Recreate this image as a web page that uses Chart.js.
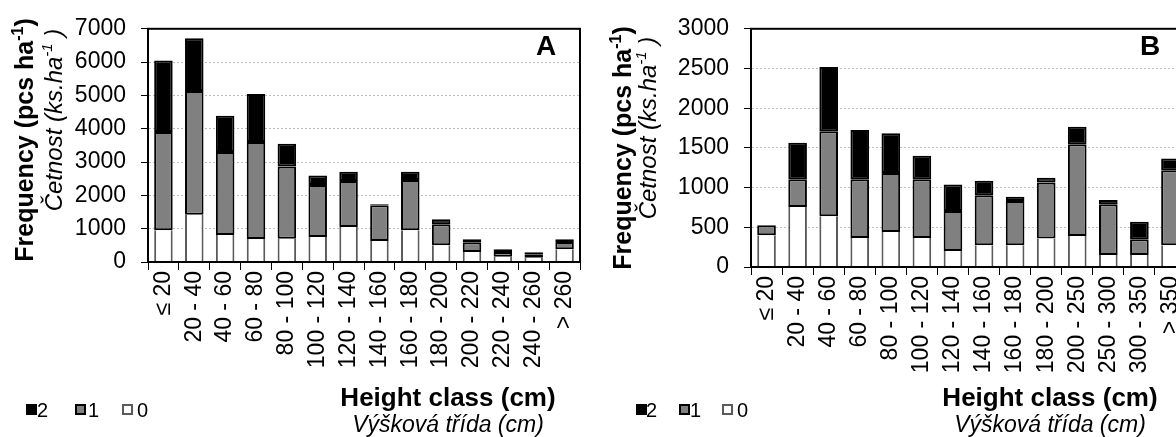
<!DOCTYPE html>
<html>
<head>
<meta charset="utf-8">
<script src="https://cdn.jsdelivr.net/npm/chart.js@4"></script>
<style>
  body { margin: 0; width: 1176px; height: 437px; overflow: hidden; background: #fff; position: relative; }
  canvas { position: absolute; top: 0; }
  #graficoA { left: 0; }
  #graficoB { left: 600px; }
</style>
</head>
<body>
<canvas id="graficoA" width="600" height="437"></canvas>
<canvas id="graficoB" width="600" height="437"></canvas>
<script>
// Classes de altura (painel A)
var classesA = ['≤ 20', '20 - 40', '40 - 60', '60 - 80', '80 - 100', '100 - 120', '120 - 140',
  '140 - 160', '160 - 180', '180 - 200', '200 - 220', '220 - 240', '240 - 260', '> 260'];
var zeroA = [950, 1420, 810, 690, 700, 750, 1050, 630, 950, 500, 300, 160, 130, 380];
var umA   = [2950, 3710, 2490, 2910, 2170, 1560, 1380, 1070, 1510, 630, 290, 140, 90, 220];
var doisA = [2150, 1590, 1090, 1440, 680, 290, 280, 30, 250, 150, 90, 80, 70, 80];
var ticksA = [0, 1000, 2000, 3000, 4000, 5000, 6000, 7000];

// Classes de altura (painel B)
var classesB = ['≤ 20', '20 - 40', '40 - 60', '60 - 80', '80 - 100', '100 - 120', '120 - 140',
  '140 - 160', '160 - 180', '180 - 200', '200 - 250', '250 - 300', '300 - 350', '> 350'];
var zeroB = [400, 755, 640, 365, 440, 365, 200, 275, 275, 360, 390, 150, 150, 275];
var umB   = [125, 350, 1070, 740, 745, 740, 505, 630, 555, 705, 1155, 640, 200, 945];
var doisB = [0, 460, 810, 620, 500, 295, 335, 180, 55, 60, 220, 55, 220, 145];
var ticksB = [0, 500, 1000, 1500, 2000, 2500, 3000];

var fonte = '"Liberation Sans", Arial, sans-serif';

// Título vertical com expoente (ha-1)
function tituloVertical(ctx, x, y, estilo, tam, base, sup, fim) {
  ctx.save();
  ctx.translate(x, y);
  ctx.rotate(-Math.PI / 2);
  var fBase = estilo + ' ' + tam + 'px ' + fonte;
  var fSup = estilo + ' ' + Math.round(tam * 0.62) + 'px ' + fonte;
  ctx.font = fBase;
  var w1 = ctx.measureText(base).width;
  var w3 = ctx.measureText(fim).width;
  ctx.font = fSup;
  var w2 = ctx.measureText(sup).width;
  var x0 = -(w1 + w2 + w3) / 2;
  var b = tam * 0.36;
  ctx.fillStyle = '#000';
  ctx.textAlign = 'left';
  ctx.textBaseline = 'alphabetic';
  ctx.font = fBase;
  ctx.fillText(base, x0, b);
  ctx.font = fSup;
  ctx.fillText(sup, x0 + w1, b - tam * 0.42);
  ctx.font = fBase;
  ctx.fillText(fim, x0 + w1 + w2, b);
  ctx.restore();
}

// Moldura, letra do painel, títulos e legenda
function textos(cfg) {
  return {
    id: 'textos',
    afterDraw: function (chart) {
      var ctx = chart.ctx;
      var a = chart.chartArea;
      ctx.save();
      ctx.strokeStyle = '#000';
      ctx.lineWidth = 2;
      ctx.strokeRect(a.left, a.top, a.right - a.left, a.bottom - a.top);

      ctx.fillStyle = '#000';
      ctx.textAlign = 'center';
      ctx.textBaseline = 'middle';
      ctx.font = 'bold 28px ' + fonte;
      ctx.fillText(cfg.letra, cfg.letraX, 47);

      tituloVertical(ctx, cfg.freqX, cfg.freqY, 'bold', cfg.freqTam, 'Frequency (pcs ha', '-1', ')');
      tituloVertical(ctx, cfg.cetX, cfg.cetY, 'italic', cfg.cetTam, 'Četnost (ks.ha', '-1', ' )');

      ctx.textBaseline = 'alphabetic';
      ctx.font = 'bold 26px ' + fonte;
      ctx.fillText('Height class (cm)', cfg.tituloX, 406);
      ctx.font = 'italic 23px ' + fonte;
      ctx.fillText('Výšková třída (cm)', cfg.tituloX, 432);

      // legenda: 2, 1, 0
      var ds = chart.data.datasets;
      var ordem = [2, 1, 0];
      ctx.textAlign = 'left';
      ctx.font = '20px ' + fonte;
      for (var i = 0; i < 3; i++) {
        var d = ds[ordem[i]];
        var bx = cfg.legCaixas[i];
        ctx.fillStyle = d.backgroundColor;
        ctx.fillRect(bx, 404, 11, 11);
        ctx.strokeStyle = d.borderColor;
        ctx.lineWidth = 2;
        ctx.strokeRect(bx + 1, 405, 9, 9);
        ctx.fillStyle = '#000';
        ctx.fillText(d.label, cfg.legTextos[i], 417);
      }
      ctx.restore();
    }
  };
}

function criarGrafico(id, classes, zero, um, dois, ticks, cfg) {
  var ctx = document.getElementById(id).getContext('2d');
  return new Chart(ctx, {
    type: 'bar',
    data: {
      labels: classes,
      datasets: [
        { label: '0', data: zero, backgroundColor: '#ffffff', borderColor: '#5a5a5a',
          borderWidth: { left: 2, right: 2, top: 0, bottom: 0 }, borderSkipped: false },
        { label: '1', data: um, backgroundColor: '#808080', borderColor: '#000000',
          borderWidth: 2, borderSkipped: false },
        { label: '2', data: dois, backgroundColor: '#000000', borderColor: '#000000',
          borderWidth: 2, borderSkipped: false }
      ]
    },
    options: {
      responsive: false,
      animation: false,
      layout: { padding: { top: cfg.topo, right: cfg.direita, left: 0, bottom: 0 } },
      datasets: { bar: { barPercentage: 0.6, categoryPercentage: 1 } },
      plugins: { legend: { display: false }, tooltip: { enabled: false } },
      scales: {
        x: {
          stacked: true,
          afterFit: function (s) { s.height = cfg.alturaX; },
          grid: { drawOnChartArea: false, drawTicks: true, tickLength: 8, color: '#000', lineWidth: 1 },
          border: { color: '#000', width: 2 },
          ticks: { autoSkip: false, minRotation: 90, maxRotation: 90, padding: 1,
            color: '#000', font: { family: fonte, size: 23 } }
        },
        y: {
          stacked: true,
          min: 0,
          max: ticks[ticks.length - 1],
          afterFit: function (s) { s.width = cfg.larguraY; },
          afterBuildTicks: function (s) { s.ticks = ticks.map(function (v) { return { value: v }; }); },
          grid: { color: '#bdbdbd', lineWidth: 1, tickColor: '#000', tickLength: 7 },
          border: { color: '#000', width: 2, dash: [2, 2] },
          ticks: { padding: 15, color: '#000', font: { family: fonte, size: 23 },
            callback: function (v) { return String(v); } }
        }
      }
    },
    plugins: [textos(cfg)]
  });
}

criarGrafico('graficoA', classesA, zeroA, umA, doisA, ticksA, {
  topo: 26, direita: 20, alturaX: 175, larguraY: 148,
  letra: 'A', letraX: 546,
  freqX: 24, freqY: 140, freqTam: 25,
  cetX: 53, cetY: 120, cetTam: 24,
  tituloX: 448,
  legCaixas: [26, 75, 122], legTextos: [37, 88, 137]
});

criarGrafico('graficoB', classesB, zeroB, umB, doisB, ticksB, {
  topo: 26, direita: 14, alturaX: 170, larguraY: 151,
  letra: 'B', letraX: 550,
  freqX: 22, freqY: 148, freqTam: 25,
  cetX: 47, cetY: 128, cetTam: 24,
  tituloX: 450,
  legCaixas: [36, 79, 122], legTextos: [46, 90, 137]
});
</script>
</body>
</html>
